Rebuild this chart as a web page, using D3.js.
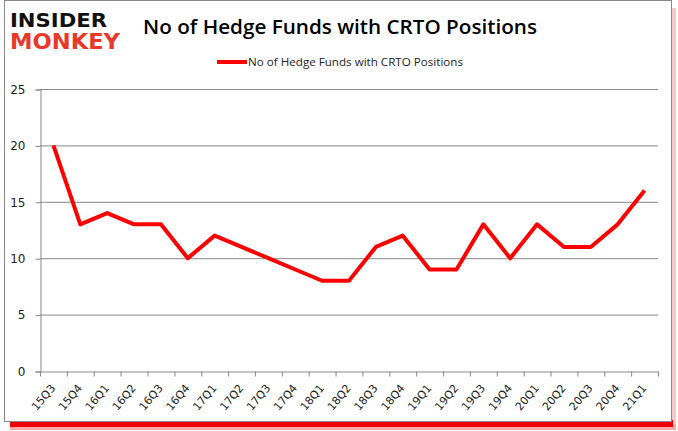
<!DOCTYPE html>
<html>
<head>
<meta charset="utf-8">
<script src="https://cdn.jsdelivr.net/npm/d3@7"></script>
<style>
  body { margin: 0; background: #fff; }
  svg { font-family: "Open Sans", "DejaVu Sans", sans-serif; }
</style>
</head>
<body>
<svg id="chart" width="678" height="431"></svg>
<script>
// data
const QUARTERS = ["15Q3","15Q4","16Q1","16Q2","16Q3","16Q4","17Q1","17Q2","17Q3","17Q4",
  "18Q1","18Q2","18Q3","18Q4","19Q1","19Q2","19Q3","19Q4","20Q1","20Q2","20Q3","20Q4","21Q1"];
const FUNDS = [20,13,14,13,13,10,12,11,10,9,8,8,11,12,9,9,13,10,13,11,11,13,16];
const Y_TICKS = [0,5,10,15,20,25];
const TITLE = "No of Hedge Funds with CRTO Positions";

const M = { left: 40, right: 658, top: 89, bottom: 371 };

const svg = d3.select('#chart');

// frame with red shadow
svg.append('rect')
  .attr('x', 671).attr('y', 8).attr('width', 5).attr('height', 418)
  .attr('fill', '#f7c9c9');
svg.append('rect')
  .attr('x', 10).attr('y', 425).attr('width', 666).attr('height', 5)
  .attr('fill', '#f55').attr('opacity', 0.5);
svg.append('rect')
  .attr('x', 10).attr('y', 420).attr('width', 663).attr('height', 7)
  .attr('fill', '#e00');
svg.append('rect')
  .attr('x', 4.5).attr('y', 0.5).attr('width', 667).attr('height', 421)
  .attr('fill', '#fff').attr('stroke', '#888');

// logo
svg.append('text').attr('x', 10).attr('y', 27)
  .attr('font-family', 'DejaVu Sans').attr('font-weight', 'bold').attr('font-size', 19)
  .attr('textLength', 97).attr('lengthAdjust', 'spacingAndGlyphs')
  .attr('fill', '#111').text('INSIDER');
svg.append('text').attr('x', 10).attr('y', 49)
  .attr('font-family', 'DejaVu Sans').attr('font-weight', 'bold').attr('font-size', 21)
  .attr('textLength', 110).attr('lengthAdjust', 'spacingAndGlyphs')
  .attr('fill', '#e8392a').text('MONKEY');

// title
svg.append('text').attr('x', 340).attr('y', 34)
  .attr('text-anchor', 'middle').attr('font-size', 20).attr('font-weight', 600).attr('fill', '#000')
  .attr('textLength', 394).attr('lengthAdjust', 'spacingAndGlyphs')
  .text(TITLE);

// legend
svg.append('line').attr('x1', 217).attr('x2', 247).attr('y1', 62).attr('y2', 62)
  .attr('stroke', '#f00').attr('stroke-width', 4);
svg.append('text').attr('x', 248).attr('y', 66).attr('font-size', 11).attr('fill', '#222')
  .attr('textLength', 215).attr('lengthAdjust', 'spacingAndGlyphs')
  .text(TITLE);

// scales
const x = d3.scaleBand().domain(QUARTERS).range([M.left, M.right]);
const y = d3.scaleLinear().domain([0, 25]).range([M.bottom, M.top]);

// gridlines
svg.append('g').selectAll('line').data(Y_TICKS.filter(d => d > 0)).enter()
  .append('line')
  .attr('x1', M.left).attr('x2', M.right)
  .attr('y1', d => y(d) + 0.5).attr('y2', d => y(d) + 0.5)
  .attr('stroke', '#888');

// y axis
const yAxis = svg.append('g')
  .attr('transform', `translate(${M.left + 0.5},0.5)`)
  .call(d3.axisLeft(y).tickValues(Y_TICKS).tickSize(5).tickPadding(10));
yAxis.select('.domain').attr('stroke', '#888');
yAxis.selectAll('.tick line').attr('stroke', '#888');
yAxis.selectAll('text').attr('font-size', 12).attr('fill', '#222').attr('font-family', 'DejaVu Sans');

// x axis
const xAxis = svg.append('g')
  .attr('transform', `translate(0.5,${M.bottom + 0.5})`)
  .call(d3.axisBottom(x).tickSize(5).tickSizeOuter(0));
xAxis.select('.domain').attr('stroke', '#888');
// ticks on band edges
xAxis.selectAll('.tick line')
  .attr('x1', x.bandwidth() / 2).attr('x2', x.bandwidth() / 2).attr('stroke', '#888');
xAxis.append('line')
  .attr('x1', M.left).attr('x2', M.left).attr('y1', 0).attr('y2', 5).attr('stroke', '#888');
xAxis.selectAll('.tick text')
  .attr('font-size', 11).attr('fill', '#222').attr('font-family', 'DejaVu Sans')
  .attr('text-anchor', 'end')
  .attr('x', 0).attr('y', 0).attr('dy', 0)
  .attr('transform', 'translate(2,17) rotate(-50)');

// line
const line = d3.line()
  .x((d, i) => x(QUARTERS[i]) + x.bandwidth() / 2)
  .y(d => y(d));
svg.append('path').datum(FUNDS)
  .attr('d', line)
  .attr('fill', 'none').attr('stroke', '#f00').attr('stroke-width', 4)
  .attr('stroke-linejoin', 'round');
</script>
</body>
</html>
